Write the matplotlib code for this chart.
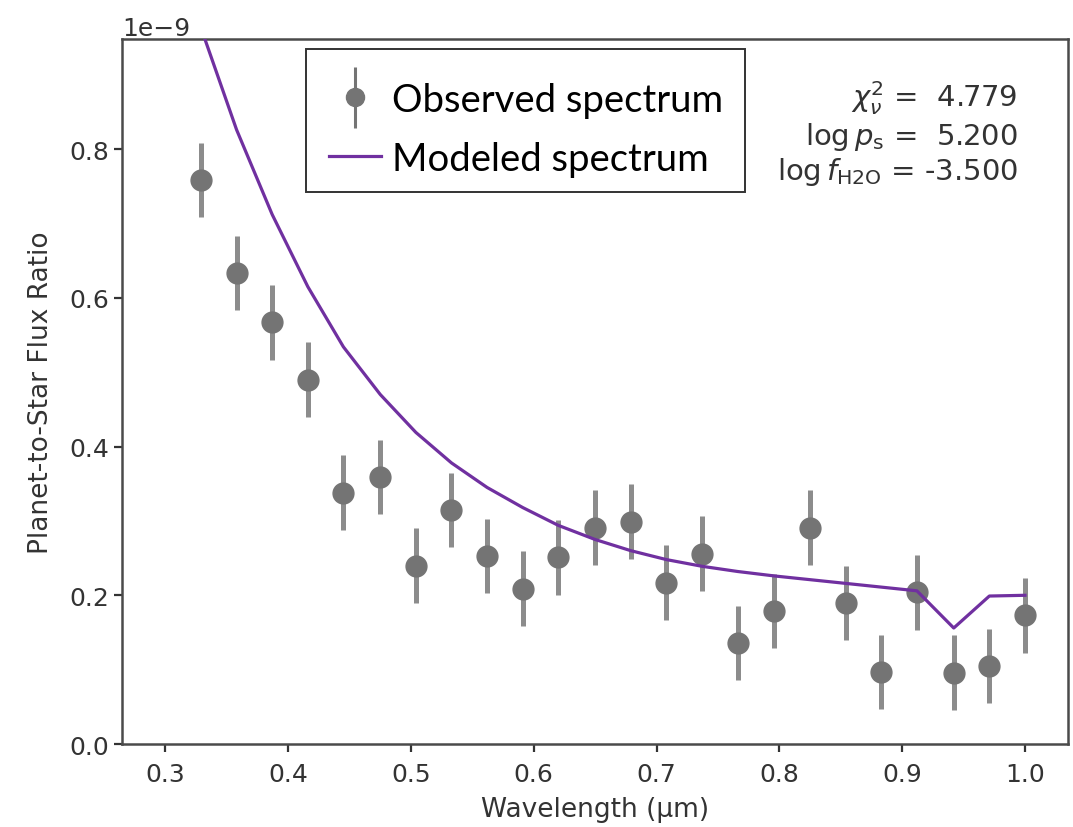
import numpy as np
import matplotlib
matplotlib.use("Agg")
import matplotlib.pyplot as plt
from matplotlib.patches import Rectangle
from matplotlib.container import ErrorbarContainer
from matplotlib.legend_handler import HandlerErrorbar

# observed spectrum (planet-to-star flux ratio, units of 1e-9)
wavelength = [0.329, 0.358, 0.387, 0.416, 0.445, 0.475, 0.504, 0.533,
              0.562, 0.591, 0.620, 0.650, 0.679, 0.708, 0.737, 0.766,
              0.796, 0.825, 0.854, 0.883, 0.912, 0.942, 0.971, 1.000]
flux_obs = [0.758, 0.633, 0.567, 0.490, 0.338, 0.359, 0.240, 0.315,
            0.253, 0.209, 0.251, 0.291, 0.299, 0.217, 0.256, 0.136,
            0.179, 0.291, 0.190, 0.097, 0.204, 0.096, 0.105, 0.173]
flux_err = [0.050] * 24

# modeled spectrum
model_wl = [0.300] + wavelength
flux_model = [1.128, 0.963, 0.826, 0.712, 0.615, 0.534, 0.470, 0.419, 0.378,
              0.345, 0.318, 0.294, 0.275, 0.260, 0.248, 0.239, 0.232,
              0.226, 0.221, 0.216, 0.211, 0.206, 0.156, 0.199, 0.200]

fit_labels = [r"$\chi^2_\nu$ =  4.779",
              r"$\log p_\mathrm{s}$ =  5.200",
              r"$\log f_\mathrm{H2O}$ = -3.500"]

scale = 1e-9
fig = plt.figure(figsize=(10.73, 8.28), dpi=100)
ax = fig.add_axes([0.1137, 0.1002, 0.8816, 0.8515])

ax.plot(np.array(model_wl), np.array(flux_model) * scale, color="#7030A0",
        lw=2.3, label="Modeled spectrum", zorder=3)
ax.errorbar(wavelength, np.array(flux_obs) * scale,
            yerr=np.array(flux_err) * scale, fmt="o", color="#747474",
            ecolor="#8c8c8c", elinewidth=3.6, markersize=15, zorder=2)
# thinner proxy used only for the legend entry
proxy = ax.errorbar([np.nan], [np.nan], yerr=[np.nan], fmt="o",
                    color="#747474", ecolor="#747474", elinewidth=2.2,
                    markersize=13, label="Observed spectrum")

ax.set_xlim(0.2647, 1.035)
ax.set_ylim(0, 0.948e-9)
ax.set_xticks([0.3, 0.4, 0.5, 0.6, 0.7, 0.8, 0.9, 1.0])
ax.set_yticks([0, 0.2e-9, 0.4e-9, 0.6e-9, 0.8e-9])
ax.ticklabel_format(axis="y", style="sci", scilimits=(-9, -9))

txt = "#333333"
ax.tick_params(labelsize=18, colors=txt, length=6, width=1.6)
ax.tick_params(axis="x", pad=7)
ax.yaxis.get_offset_text().set_fontsize(18)
ax.yaxis.get_offset_text().set_color(txt)
for sp in ax.spines.values():
    sp.set_linewidth(1.8)
    sp.set_color("#4a4a4a")

ax.set_xlabel("Wavelength (µm)", fontsize=19, color=txt, labelpad=7)
ax.set_ylabel("Planet-to-Star Flux Ratio", fontsize=19, color=txt, labelpad=11)

ax.text(0.947, 0.945, "\n".join(fit_labels), transform=ax.transAxes,
        ha="right", va="top", multialignment="right", fontsize=21,
        color=txt, linespacing=1.16)

# legend box drawn separately so the entries sit a little lower inside it
ax.add_patch(Rectangle((0.1945, 0.783), 0.4641, 0.2028, transform=ax.transAxes,
                       facecolor="white", edgecolor="#333333", lw=1.4,
                       zorder=4.9))
handles, labels = ax.get_legend_handles_labels()
leg = ax.legend(handles[::-1], labels[::-1], loc="upper left",
                bbox_to_anchor=(0.194, 0.973), frameon=False,
                prop={"family": "Lato", "size": 27.5},
                borderpad=0.62, handlelength=1.35, handletextpad=0.3,
                labelspacing=0.6, borderaxespad=0,
                handler_map={ErrorbarContainer: HandlerErrorbar(yerr_size=0.8)})
leg.set_zorder(5)

fig.savefig("out.png", dpi=100)
